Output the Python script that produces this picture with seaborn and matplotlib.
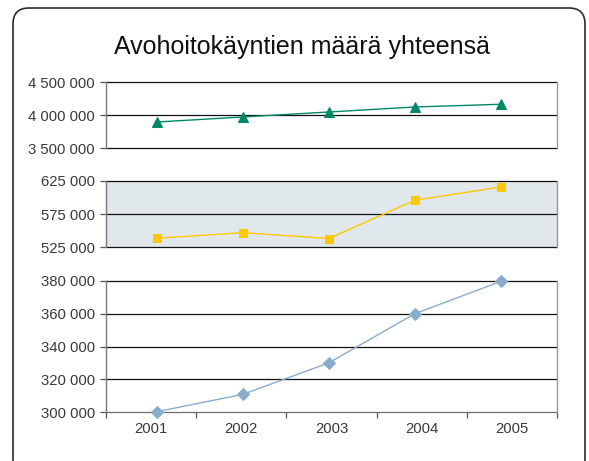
import numpy as np
import matplotlib
matplotlib.use('Agg')
import matplotlib.pyplot as plt
import seaborn as sns
from matplotlib.patches import FancyBboxPatch
from matplotlib.ticker import FuncFormatter, FixedLocator

# data
years = [2001, 2002, 2003, 2004, 2005]
total_top = [3898000, 3975000, 4050000, 4126000, 4167000]
mid_series = [538600, 547000, 538200, 596000, 616000]
low_series = [300400, 310900, 330100, 360000, 379600]

top_ticks = [3500000, 4000000, 4500000]
mid_ticks = [525000, 575000, 625000]
low_ticks = [300000, 320000, 340000, 360000, 380000]

title = 'Avohoitokäyntien määrä yhteensä'

sns.set_theme(style='white')
plt.rcParams['font.family'] = ['Liberation Sans', 'DejaVu Sans']

fig = plt.figure(figsize=(5.89, 4.61), dpi=100)

# rounded frame around the whole thing
frame = FancyBboxPatch((13, -14), 572, 467, boxstyle='round,pad=0,rounding_size=16',
                       transform=None, fill=False, edgecolor='#2b2b2b', linewidth=1.2)
fig.patches.append(frame)

fig.text(0.512, 0.897, title, ha='center', va='center', fontsize=18, color='#111111')

left, width = 0.18, 0.7657
ax_top = fig.add_axes([left, 0.6783, width, 0.1432])
ax_mid = fig.add_axes([left, 0.4636, width, 0.1438])
ax_low = fig.add_axes([left, 0.1056, width, 0.2855])

xlim = (2000.41, 2005.65)

def fmt(v, pos):
    return f'{v:,.0f}'.replace(',', ' ')

panels = [
    (ax_top, total_top, top_ticks, '^', '#00876a', 7.5, 'white'),
    (ax_mid, mid_series, mid_ticks, 's', '#ffc800', 6.3, '#e1e8ec'),
    (ax_low, low_series, low_ticks, 'D', '#8aaccb', 6.0, 'white'),
]

for ax, vals, ticks, mk, col, ms, bg in panels:
    sns.lineplot(x=years, y=vals, ax=ax, color=col, marker=mk, markersize=ms,
                 markeredgecolor=col, linewidth=1.0, zorder=3)
    for ln in ax.get_lines():
        ln.set_clip_on(False)
    ax.set_facecolor(bg)
    ax.set_xlim(*xlim)
    ax.set_ylim(ticks[0], ticks[-1])
    ax.set_yticks(ticks)
    ax.yaxis.set_major_formatter(FuncFormatter(fmt))
    for y in ticks:
        gcol = '#6e6e6e' if (ax is ax_low and y == ticks[0]) else '#111111'
        ax.axhline(y, color=gcol, linewidth=0.9, zorder=1, clip_on=False)
    for s in ['top', 'bottom']:
        ax.spines[s].set_visible(False)
    ax.spines['left'].set_color('#7a7a7a')
    ax.spines['right'].set_color('#9a9a9a')
    ax.spines['left'].set_linewidth(1.0)
    ax.spines['right'].set_linewidth(1.0)
    ax.tick_params(axis='y', which='major', left=True, length=4, width=0.9,
                   color='#555555', direction='out', pad=4, labelsize=10.7,
                   labelcolor='#3a3a3a')
    ax.set_xlabel('')
    ax.set_ylabel('')
    ax.grid(False)

for ax in (ax_top, ax_mid):
    ax.set_xticks([])

# x axis: labels centred in slots, tick marks at slot edges
span = xlim[1] - xlim[0]
slot = span / len(years)
label_pos = [xlim[0] + (i + 0.5) * slot for i in range(len(years))]
edge_pos = [xlim[0] + i * slot for i in range(len(years) + 1)]
ax_low.xaxis.set_major_locator(FixedLocator(label_pos))
ax_low.set_xticklabels([str(y) for y in years])
ax_low.xaxis.set_minor_locator(FixedLocator(edge_pos))
ax_low.tick_params(axis='x', which='major', bottom=True, length=0, pad=7,
                   labelsize=10.7, labelcolor='#3a3a3a')
ax_low.tick_params(axis='x', which='minor', bottom=True, length=4, width=0.9,
                   color='#555555', direction='out')

plt.savefig('out.png', dpi=100)
